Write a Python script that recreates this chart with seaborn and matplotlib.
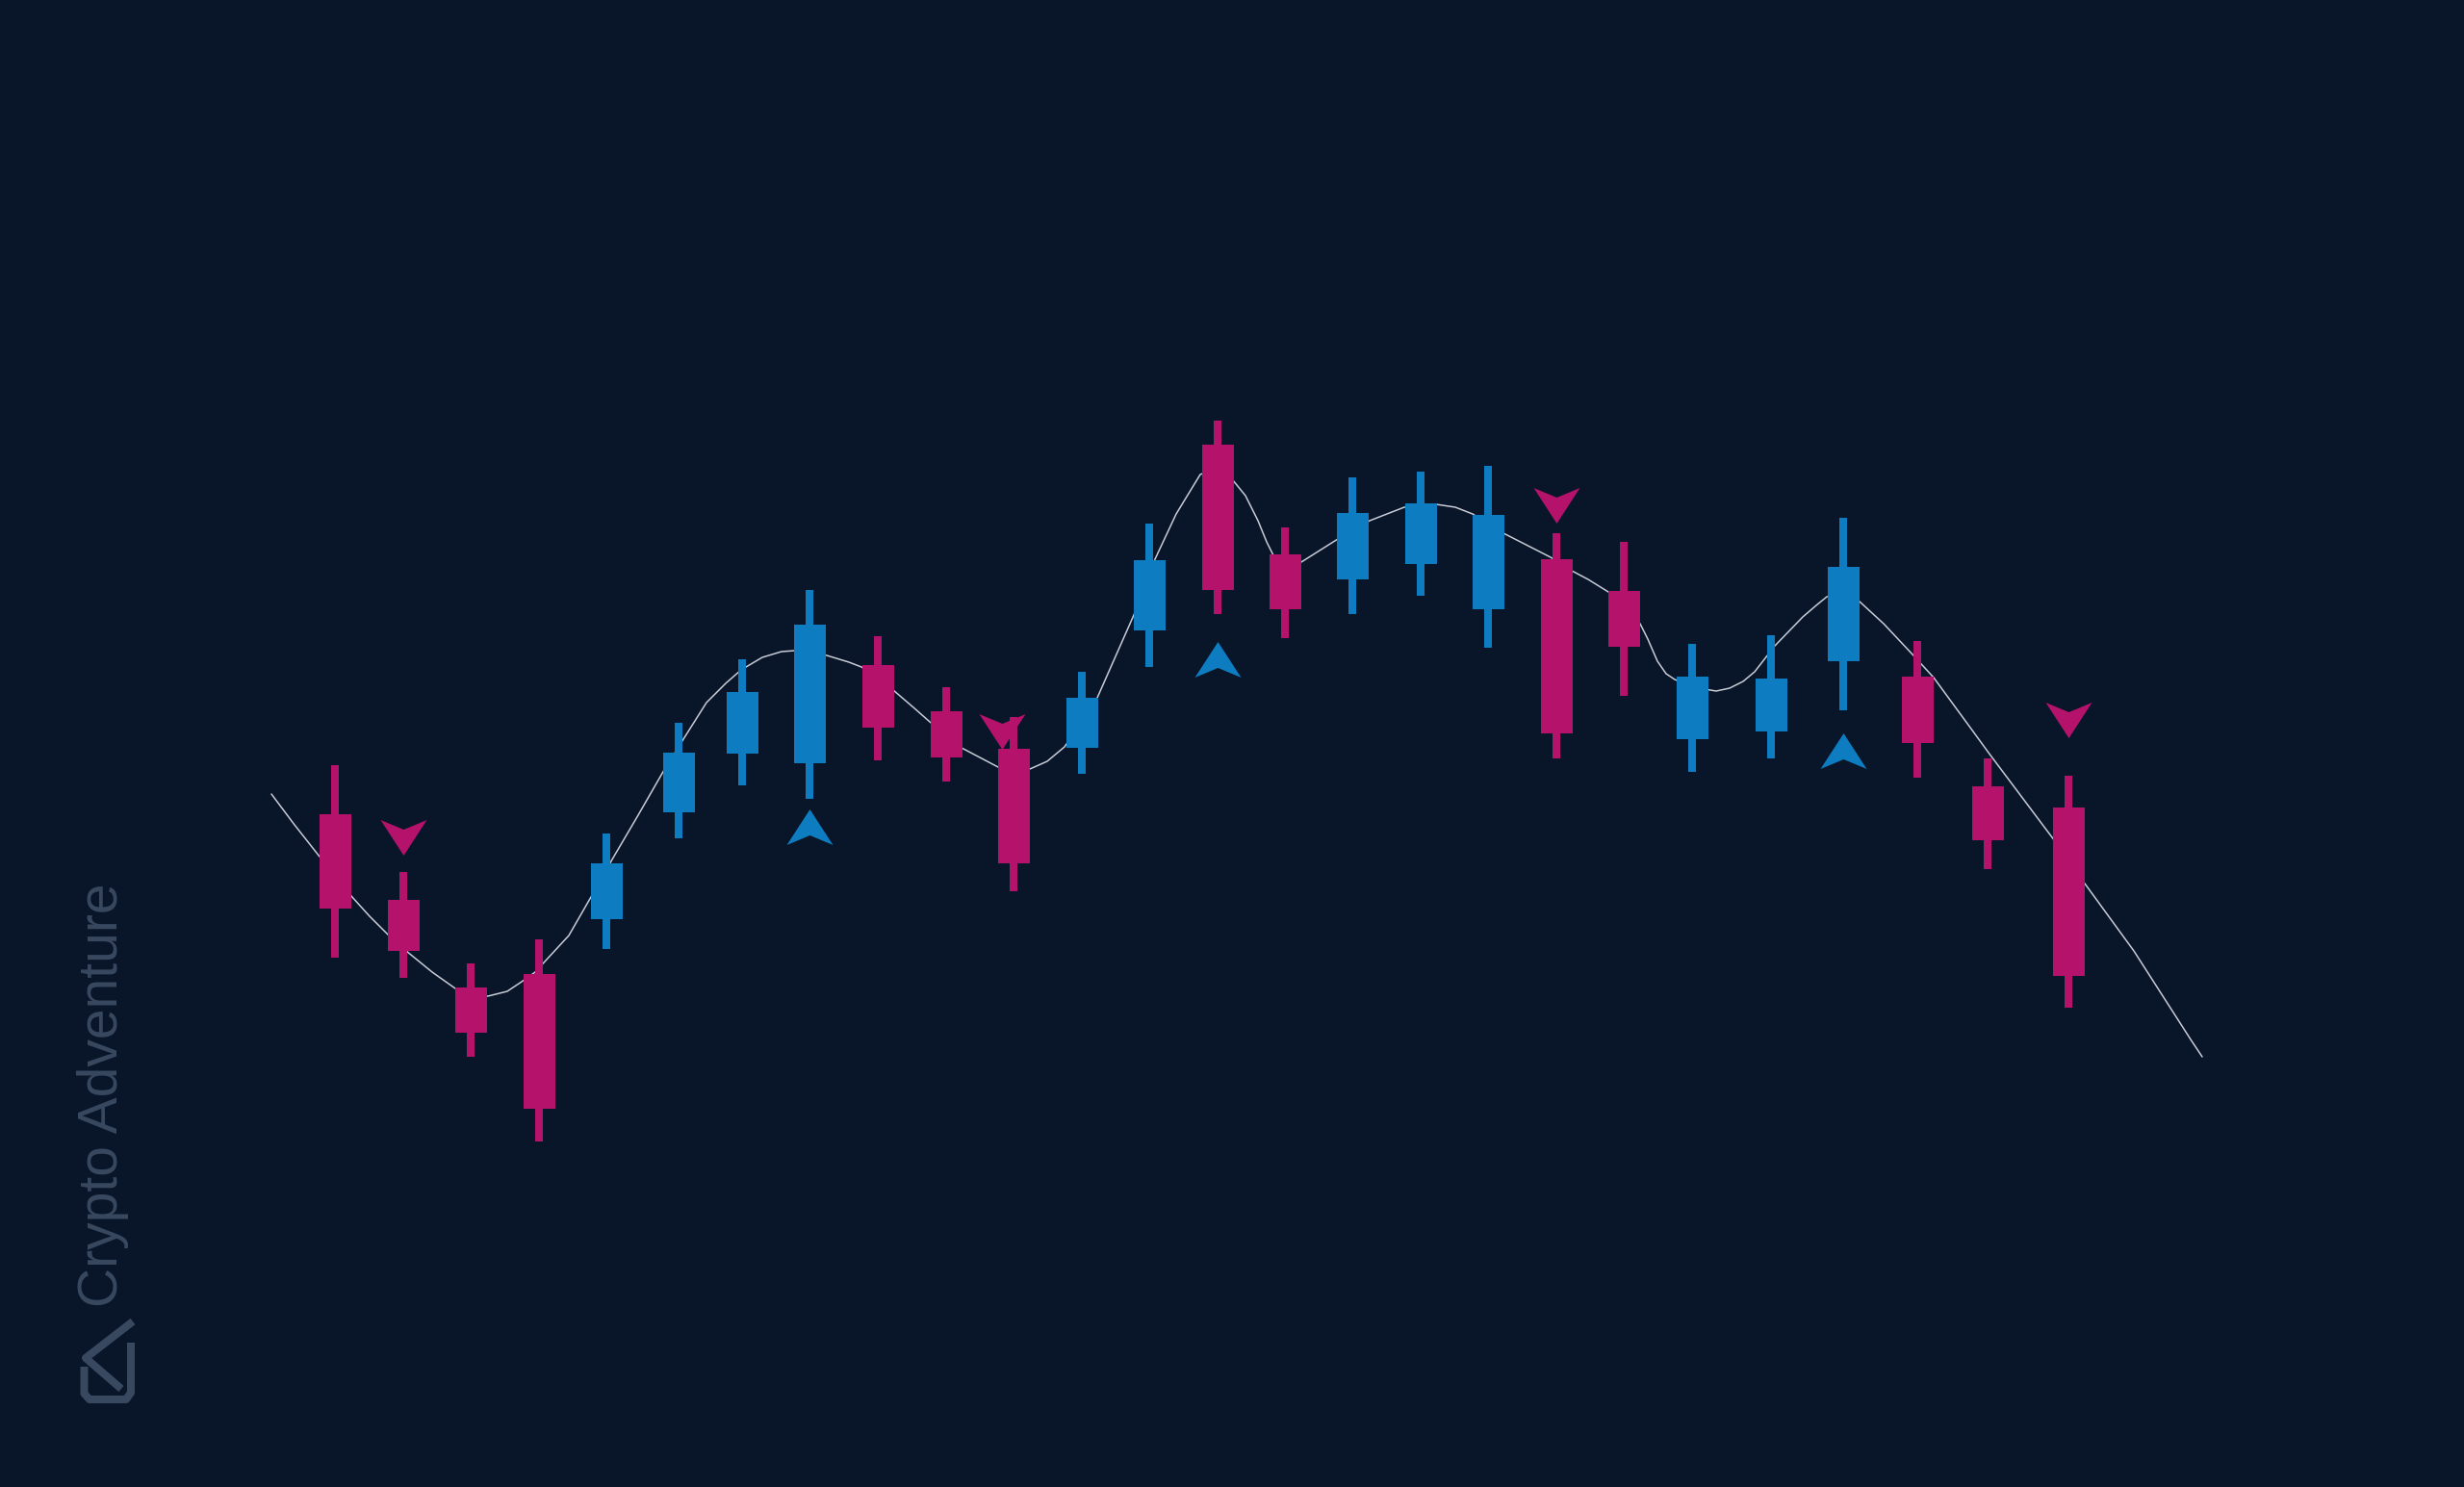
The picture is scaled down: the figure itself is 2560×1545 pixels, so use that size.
import numpy as np
import pandas as pd
import matplotlib
matplotlib.use("Agg")
import matplotlib.pyplot as plt
import seaborn as sns
from matplotlib.path import Path

# candle positions (px along the time axis) and OHLC levels
candle_x = [348, 419, 489, 560, 630, 705, 771, 841, 912, 983, 1053, 1124, 1194,
            1265, 1335, 1405, 1476, 1546, 1617, 1687, 1758, 1840, 1915, 1992, 2065, 2149]
opens = [699, 610, 519, 533, 590, 701, 762, 752, 854, 806, 767, 768, 890,
         1083, 969, 943, 959, 912, 964, 931, 777, 785, 858, 842, 728, 706]
closes = [601, 557, 472, 393, 648, 763, 826, 896, 789, 758, 648, 820, 963,
          932, 912, 1012, 1022, 1010, 783, 873, 842, 840, 956, 773, 672, 531]
highs = [750, 639, 544, 569, 679, 794, 860, 932, 884, 831, 800, 847, 1001,
         1108, 997, 1049, 1055, 1061, 991, 982, 876, 885, 1007, 879, 757, 739]
lows = [550, 529, 447, 359, 559, 674, 729, 715, 755, 733, 619, 741, 852,
        907, 882, 907, 926, 872, 757, 822, 743, 757, 807, 737, 642, 498]

# buy / sell signal markers
sell_x = [419, 1041, 1617, 2149]
sell_y = [675, 785, 1020, 797]
buy_x = [841, 1265, 1915]
buy_y = [686, 860, 765]

# smoothed trend line
line_x = [282, 306, 332, 365, 384, 404, 422, 449, 473, 490,
          507, 527, 542, 556, 567, 591, 614, 636, 663, 690,
          710, 734, 754, 770, 792, 812, 826, 842, 859, 882,
          895, 928, 949, 966, 999, 1037, 1053, 1070, 1088, 1106,
          1140, 1178, 1200, 1222, 1247, 1265, 1281, 1294, 1307, 1316,
          1323, 1352, 1390, 1423, 1441, 1459, 1492, 1512, 1530, 1562,
          1611, 1633, 1650, 1671, 1704, 1712, 1722, 1731, 1740, 1759,
          1783, 1797, 1811, 1823, 1844, 1873, 1887, 1898, 1915, 1932,
          1957, 1988, 2009, 2050, 2066, 2132, 2166, 2217, 2276, 2288]
line_y = [720, 688, 655, 614, 593, 573, 557, 535, 518, 513,
          510, 515, 525, 535, 547, 573, 613, 652, 698, 745,
          777, 815, 835, 849, 862, 868, 869, 869, 864, 857,
          852, 828, 810, 795, 768, 748, 745, 746, 754, 769,
          820, 906, 964, 1011, 1052, 1059, 1046, 1030, 1004, 982,
          968, 961, 985, 1004, 1011, 1018, 1021, 1018, 1011, 991,
          966, 952, 943, 930, 897, 881, 858, 845, 839, 831,
          827, 830, 837, 847, 874, 904, 916, 925, 928, 920,
          897, 864, 841, 785, 763, 675, 627, 557, 465, 447]

BG = "#091529"
PINK = "#b5126b"
BLUE = "#0d7cc0"
WM = "#38485f"

sns.set_style("dark", {"axes.facecolor": BG, "figure.facecolor": BG})

fig = plt.figure(figsize=(25.6, 15.45), dpi=100)
ax = fig.add_axes([0, 0, 1, 1])
ax.set_facecolor(BG)

df = pd.DataFrame({"x": candle_x, "open": opens, "close": closes,
                   "high": highs, "low": lows})
df["color"] = np.where(df["close"] > df["open"], BLUE, PINK)

# trend line behind the candles
sns.lineplot(x=line_x, y=line_y, sort=False, estimator=None, color="#c7ccd6",
             lw=1.1, ax=ax, zorder=1)

# wicks and bodies
ax.bar(df["x"], df["high"] - df["low"], bottom=df["low"], width=7.5,
       color=df["color"], edgecolor="none", linewidth=0, zorder=2)
ax.bar(df["x"], (df["close"] - df["open"]).abs(),
       bottom=df[["open", "close"]].min(axis=1), width=33,
       color=df["color"], edgecolor="none", linewidth=0, zorder=2)

# arrow markers
down_arrow = Path([(-24, 18.5), (0, 8.5), (24, 18.5), (0, -18.5), (-24, 18.5)],
                  [Path.MOVETO, Path.LINETO, Path.LINETO, Path.LINETO, Path.CLOSEPOLY])
up_arrow = Path([(0, 18.5), (24, -18.5), (0, -8.5), (-24, -18.5), (0, 18.5)],
                [Path.MOVETO, Path.LINETO, Path.LINETO, Path.LINETO, Path.CLOSEPOLY])
msize = (48 * 72 / 100) ** 2
sns.scatterplot(x=sell_x, y=sell_y, marker=down_arrow, s=msize, color=PINK,
                linewidth=0, ax=ax, zorder=3)
sns.scatterplot(x=buy_x, y=buy_y, marker=up_arrow, s=msize, color=BLUE,
                linewidth=0, ax=ax, zorder=3)

# watermark
ax.text(122, 1545 - 1358, "Crypto Adventure", rotation=90, rotation_mode="anchor",
        ha="left", va="baseline", fontsize=41, color=WM,
        family=["Liberation Sans", "DejaVu Sans"], zorder=0)
logo_a = np.array([(138, 1373), (89, 1411), (126, 1443)])
logo_u = np.array([(136, 1395), (136, 1447), (131, 1454), (93, 1454),
                   (87.5, 1448), (87.5, 1420)])
for pts in (logo_a, logo_u):
    ax.plot(pts[:, 0], 1545 - pts[:, 1], color=WM, lw=5.8,
            solid_joinstyle="round", solid_capstyle="butt", zorder=0)

ax.set_xlim(0, 2560)
ax.set_ylim(0, 1545)
ax.axis("off")

fig.savefig("out.png", dpi=100, facecolor=BG)
